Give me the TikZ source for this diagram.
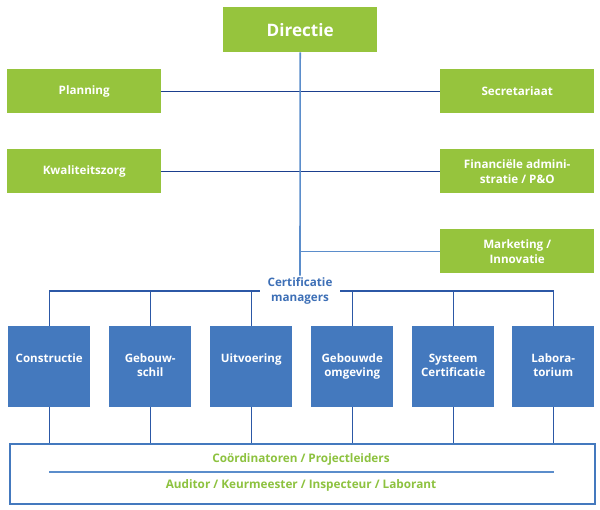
\documentclass[tikz,border=0pt]{standalone}
\usepackage{fontspec}
\setmainfont{Open Sans}
\definecolor{grn}{HTML}{96C43D}
\definecolor{bbl}{HTML}{4479BE}
\definecolor{navy}{HTML}{1B3F8E}
\definecolor{lblue}{HTML}{5B8DCB}
\definecolor{mblue}{HTML}{2C58A6}
\definecolor{txtgrn}{HTML}{8DC23F}
\definecolor{txtblue}{HTML}{3D6FB6}
\begin{document}
\begin{tikzpicture}[x=1bp,y=-1bp,
  gbox/.style={fill=grn, text=white, font=\bfseries\fontsize{11.7}{15}\selectfont, align=center,
    minimum width=154bp, minimum height=44bp, inner sep=0pt, anchor=north west},
  bbox/.style={fill=bbl, minimum width=82bp, minimum height=81bp, inner sep=0pt, anchor=north west},
  btxt/.style={text=white, font=\bfseries\fontsize{11.6}{14.5}\selectfont, align=center, inner sep=0pt, anchor=north},
  hline/.style={draw=navy, line width=1.1bp},
  vline/.style={draw=lblue, line width=1.6bp},
  cline/.style={draw=mblue, line width=1.1bp},
  gtxt/.style={text=txtgrn, font=\bfseries\fontsize{11.8}{14}\selectfont, inner sep=0pt}
]
\useasboundingbox (0,0) rectangle (600,510);
% top
\node[gbox, minimum width=154bp, minimum height=45bp, font=\bfseries\fontsize{17.2}{20}\selectfont] (dir) at (223,7) {Directie};
\node[gbox] (pln) at (7,69) {Planning};
\node[gbox] (sec) at (440,69) {Secretariaat};
\node[gbox] (kwa) at (7,149) {Kwaliteitszorg};
\node[gbox] (fin) at (440,149) {Financiële admini-\\stratie / P\&O};
\node[gbox] (mkt) at (440,229) {Marketing /\\Innovatie};
\node[text=txtblue, font=\bfseries\fontsize{11.7}{14.5}\selectfont, align=center, inner xsep=0pt, inner ysep=2bp, minimum width=80bp] (lbl) at (300,291) {Certificatie\\managers};
% connectors top
\draw[hline] (pln.east) -- (sec.west);
\draw[hline] (kwa.east) -- (fin.west);
\draw[vline] (dir.south) -- (lbl.north);
\draw[draw=lblue, line width=1.3bp] (dir.south |- mkt.west) -- (mkt.west);
% blue boxes
\node[bbox] (c1) at (8,326) {};
\node[bbox] (c2) at (109,326) {};
\node[bbox] (c3) at (210,326) {};
\node[bbox] (c4) at (311,326) {};
\node[bbox] (c5) at (412,326) {};
\node[bbox] (c6) at (512,326) {};
\node[btxt] at ([yshift=-27.5bp]c1.north) {Constructie};
\node[btxt] at ([yshift=-27.5bp]c2.north) {Gebouw-\\schil};
\node[btxt] at ([yshift=-27.5bp]c3.north) {Uitvoering};
\node[btxt] at ([yshift=-27.5bp]c4.north) {Gebouwde\\omgeving};
\node[btxt] at ([yshift=-27.5bp]c5.north) {Systeem\\Certificatie};
\node[btxt] at ([yshift=-27.5bp]c6.north) {Labora-\\torium};
% bottom box
\node[draw=bbl, line width=2.4bp, fill=white, minimum width=585bp, minimum height=60bp, inner sep=0pt, anchor=north west] (bot) at (9,443) {};
\node[gtxt] (t1) at (301,459) {Coördinatoren / Projectleiders};
\node[gtxt] (t2) at (301,485) {Auditor / Keurmeester / Inspecteur / Laborant};
\coordinate (il) at (49,472);
\coordinate (ir) at (554,472);
\draw[draw=lblue, line width=1.3bp] (il) -- (ir);
% certification line
\draw[cline] (lbl.west) -- (c1.north |- lbl.west) -- (c1.north);
\draw[cline] (lbl.east) -- (c6.north |- lbl.east) -- (c6.north);
\foreach \c in {c2,c3,c4,c5} { \draw[cline] (\c.north |- lbl.west) -- (\c.north); }
\foreach \c in {c1,c2,c3,c4,c5,c6} { \draw[cline] (\c.south) -- (\c.south |- bot.north); }
\end{tikzpicture}
\end{document}
